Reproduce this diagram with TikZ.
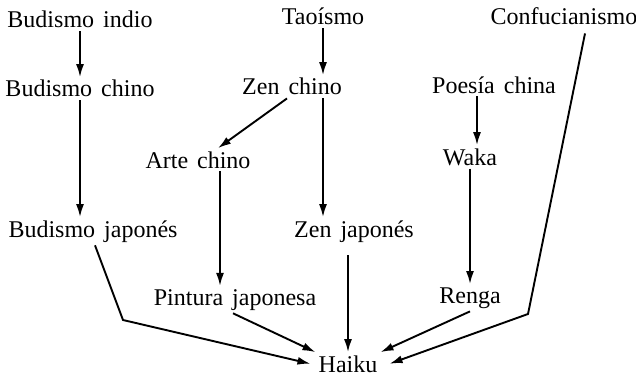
\documentclass[tikz,border=0pt]{standalone}
\usepackage{fontspec}
\setmainfont{Liberation Serif}
\usetikzlibrary{arrows.meta}
\newcommand\conceptfont{\fontsize{24}{28}\selectfont\spaceskip=9pt\relax}

\begin{document}
\begin{tikzpicture}[x=1pt,y=-1pt,
  concept/.style={anchor=base,inner sep=3pt,font=\conceptfont},
  flow/.style={line width=1.9pt,-{Latex[length=13pt,width=8pt]}}]
  \useasboundingbox (0,0) rectangle (636,377);

  \node[concept] (bindio) at (80,28) {Budismo indio};
  \node[concept] (taoismo) at (323,25) {Taoísmo};
  \node[concept] (confu) at (564,25) {Confucianismo};

  \node[concept] (bchino) at (80,97) {Budismo chino};
  \node[concept] (zchino) at (292,95) {Zen chino};
  \node[concept] (poesia) at (494,93) {Poesía china};

  \node[concept] (arte) at (198,168) {Arte chino};
  \node[concept] (waka) at (470,165) {Waka};

  \node[concept] (bjapon) at (93,237) {Budismo japonés};
  \node[concept] (zjapon) at (354,237) {Zen japonés};

  \node[concept] (pintura) at (235,305) {Pintura japonesa};
  \node[concept] (renga) at (470,303) {Renga};

  \node[concept] (haiku) at (348,372) {Haiku};

  \coordinate (bbend) at (123,320);
  \coordinate (cbend) at (528,314);

  \draw[flow] (bindio) -- (bchino);
  \draw[flow] (taoismo.south) -- (taoismo.south |- zchino.north);
  \draw[flow] ([xshift=-5pt]zchino.south) -- ([xshift=20pt]arte.north);
  \draw[flow] ([xshift=31pt]zchino.south) -- ([xshift=-31pt]zjapon.north);
  \draw[flow] ([xshift=7pt]waka.north |- poesia.south) -- ([xshift=7pt]waka.north);
  \draw[flow] (bchino) -- (bchino |- bjapon.north);
  \draw[flow] ([xshift=22pt]arte.south) -- ([xshift=22pt]arte.south |- pintura.north);
  \draw[flow] (waka) -- (renga);
  \draw[flow] ([xshift=2pt]bjapon.south) -- (bbend) -- ([xshift=-5pt]haiku.west);
  \draw[flow] ([xshift=-2pt]pintura.south) -- (haiku.north west);
  \draw[flow] ([yshift=-10pt]haiku.north |- zjapon.south) -- (haiku.north);
  \draw[flow] (renga.south) -- (haiku.north east);
  \draw[flow] ([xshift=21pt,yshift=-5pt]confu.south) -- (cbend) -- ([xshift=9pt]haiku.east);
\end{tikzpicture}
\end{document}
